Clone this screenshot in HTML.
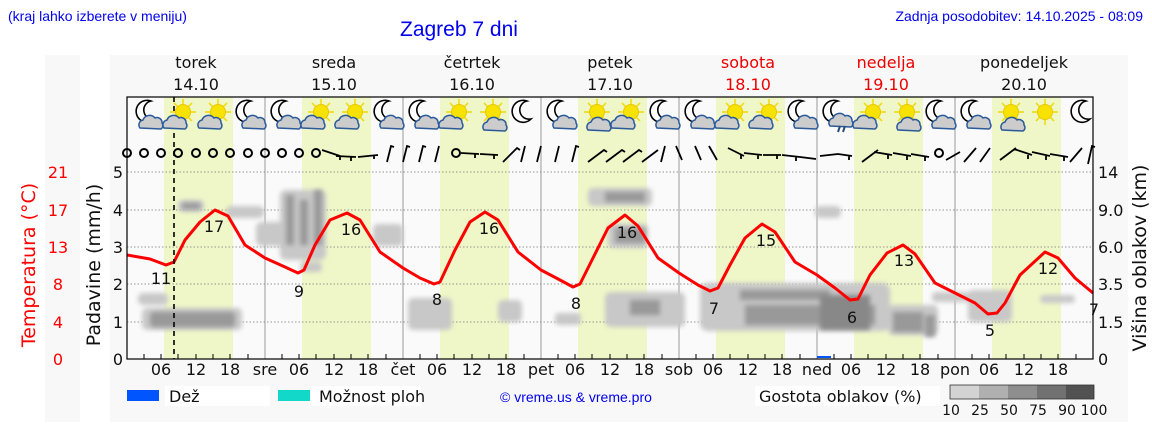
<!DOCTYPE html>
<html><head><meta charset="utf-8"><style>
body{margin:0;background:#fff;}
svg{display:block;font-family:"DejaVu Sans","Liberation Sans",sans-serif;}
.hd{font-family:"Liberation Sans",sans-serif;}
</style></head><body>
<svg width="1152" height="443" viewBox="0 0 1152 443" xmlns="http://www.w3.org/2000/svg">
<defs>
<filter id="bl" x="-20%" y="-20%" width="140%" height="140%"><feGaussianBlur stdDeviation="2.5"/></filter>
<g id="moon"><path d="M6,-12 A11,11 0 1 0 10,6 A9,9 0 0 1 6,-12 Z" fill="#fff" stroke="#000" stroke-width="1.6"/></g>
<g id="cl"><path d="M-10,6 a5,5 0 0 1 3,-8 a7,7 0 0 1 12,-2 a5,5 0 0 1 7,5 a4,4 0 0 1 -1,6 z" fill="#ccc" stroke="#2a5a9a" stroke-width="1.5"/></g>
<g id="sun"><g stroke="#f2d800" stroke-width="1.5"><line x1="0" y1="-13" x2="0" y2="13"/><line x1="-13" y1="0" x2="13" y2="0"/><line x1="-9" y1="-9" x2="9" y2="9"/><line x1="-9" y1="9" x2="9" y2="-9"/></g><circle r="7.5" fill="#f7e200" stroke="#e8c800"/></g>
</defs>
<rect width="1152" height="443" fill="#fff"/>
<rect x="45" y="55" width="35" height="367" fill="#f8f8f8"/>
<rect x="110" y="55" width="1018" height="367" fill="#f8f8f8"/>
<text class="hd" x="8" y="21" font-size="14" fill="#0000ee">(kraj lahko izberete v meniju)</text>
<text class="hd" x="400" y="36" font-size="21" fill="#0000ee">Zagreb 7 dni</text>
<text class="hd" x="1143" y="21" font-size="14" fill="#0000ee" text-anchor="end">Zadnja posodobitev: 14.10.2025 - 08:09</text>
<rect x="127" y="97" width="966" height="262" fill="#fafafa"/>
<g fill="#eff7c8">
<rect x="164" y="97" width="69" height="262"/><rect x="302" y="97" width="69" height="262"/>
<rect x="440" y="97" width="69" height="262"/><rect x="578" y="97" width="69" height="262"/>
<rect x="716" y="97" width="69" height="262"/><rect x="854" y="97" width="69" height="262"/>
<rect x="992" y="97" width="69" height="262"/>
</g>
<g stroke="#999" stroke-width="1">
<line x1="265" y1="97" x2="265" y2="359"/><line x1="403" y1="97" x2="403" y2="359"/><line x1="541" y1="97" x2="541" y2="359"/><line x1="679" y1="97" x2="679" y2="359"/><line x1="817" y1="97" x2="817" y2="359"/><line x1="955" y1="97" x2="955" y2="359"/>
</g>
<g stroke="#777" stroke-dasharray="1.5,2" stroke-width="0.8">
<line x1="127" y1="172" x2="1093" y2="172"/><line x1="127" y1="210" x2="1093" y2="210"/><line x1="127" y1="247" x2="1093" y2="247"/><line x1="127" y1="284" x2="1093" y2="284"/><line x1="127" y1="322" x2="1093" y2="322"/>
</g>
<g filter="url(#bl)" fill="#c8c8c8">
<rect x="138" y="293" width="30" height="12" rx="5"/><rect x="142" y="308" width="100" height="22" rx="5"/>
<rect x="178" y="200" width="26" height="12" rx="5"/><rect x="226" y="206" width="38" height="12" rx="5"/>
<rect x="256" y="222" width="46" height="24" rx="6"/><rect x="280" y="190" width="46" height="70" rx="6"/>
<rect x="300" y="262" width="22" height="10" rx="4"/><rect x="373" y="224" width="30" height="22" rx="5"/>
<rect x="408" y="298" width="44" height="32" rx="5"/><rect x="498" y="300" width="24" height="22" rx="5"/>
<rect x="588" y="188" width="64" height="18" rx="5"/><rect x="608" y="224" width="40" height="24" rx="5"/>
<rect x="605" y="292" width="80" height="35" rx="6"/><rect x="555" y="313" width="26" height="12" rx="4"/>
<rect x="700" y="283" width="190" height="48" rx="8"/><rect x="815" y="206" width="26" height="12" rx="5"/>
<rect x="888" y="305" width="50" height="30" rx="5"/><rect x="932" y="292" width="38" height="10" rx="4"/>
<rect x="968" y="290" width="44" height="32" rx="5"/><rect x="1040" y="295" width="35" height="8" rx="4"/>
</g>
<g filter="url(#bl)" fill="#999">
<rect x="150" y="312" width="85" height="15" rx="4"/><rect x="182" y="203" width="18" height="6"/>
<rect x="286" y="195" width="8" height="50"/><rect x="300" y="200" width="8" height="45"/><rect x="314" y="190" width="8" height="55"/>
<rect x="605" y="192" width="40" height="10"/><rect x="615" y="228" width="30" height="15"/><rect x="630" y="300" width="30" height="15"/>
<rect x="740" y="290" width="90" height="10"/><rect x="745" y="305" width="130" height="20"/><rect x="820" y="295" width="50" height="35" fill="#888"/>
<rect x="893" y="312" width="30" height="20"/><rect x="925" y="315" width="10" height="22"/>
</g>
<polyline fill="none" stroke="#f00" stroke-width="3" stroke-linejoin="round" points="127,255 150,259 166,265 174,262 185,240 200,222 215,210 228,216 245,245 265,258 285,267 298,273 304,270 315,245 330,220 347,213 360,220 380,252 403,268 420,278 434,284 440,282 455,250 470,222 485,212 498,220 518,252 541,270 560,280 573,287 580,284 592,260 608,228 625,215 638,226 658,258 679,273 698,285 710,291 718,288 730,265 745,238 762,224 775,232 795,262 817,275 835,288 850,300 858,299 870,275 887,253 903,245 915,254 935,283 955,293 975,303 988,314 997,313 1005,303 1020,275 1045,252 1058,258 1075,278 1093,293"/>
<g font-size="16" fill="#111" text-anchor="middle">
<text x="161" y="284">11</text><text x="214" y="232">17</text><text x="299" y="297">9</text><text x="351" y="235">16</text><text x="437" y="305">8</text><text x="489" y="234">16</text><text x="576" y="309">8</text><text x="627" y="238">16</text><text x="714" y="314">7</text><text x="766" y="246">15</text><text x="852" y="323">6</text><text x="904" y="266">13</text><text x="990" y="336">5</text><text x="1048" y="274">12</text><text x="1094" y="315">7</text>
</g>
<line x1="174" y1="97" x2="174" y2="359" stroke="#000" stroke-width="1.6" stroke-dasharray="5,4"/>
<rect x="817" y="356" width="14" height="2" fill="#05f"/>
<rect x="127" y="97" width="966" height="262" fill="none" stroke="#000" stroke-width="1.2"/>
<g>
<use href="#moon" x="145" y="113"/><use href="#cl" x="150" y="122"/>
<use href="#sun" x="183" y="112"/><use href="#cl" x="174" y="122"/>
<use href="#sun" x="218" y="112"/><use href="#cl" x="209" y="122"/>
<use href="#moon" x="245" y="113"/><use href="#cl" x="253" y="122"/>
<use href="#moon" x="280" y="113"/><use href="#cl" x="288" y="122"/>
<use href="#sun" x="321" y="112"/><use href="#cl" x="312" y="122"/>
<use href="#sun" x="355" y="112"/><use href="#cl" x="346" y="122"/>
<use href="#moon" x="383" y="113"/><use href="#cl" x="391" y="122"/>
<use href="#moon" x="418" y="113"/><use href="#cl" x="426" y="122"/>
<use href="#sun" x="459" y="112"/><use href="#cl" x="450" y="122"/>
<use href="#sun" x="493" y="112"/><use href="#cl" x="494" y="124"/>
<use href="#moon" x="521" y="113"/>
<use href="#moon" x="556" y="113"/><use href="#cl" x="564" y="122"/>
<use href="#sun" x="597" y="112"/><use href="#cl" x="598" y="124"/>
<use href="#sun" x="631" y="112"/><use href="#cl" x="622" y="122"/>
<use href="#moon" x="659" y="113"/><use href="#cl" x="667" y="122"/>
<use href="#moon" x="694" y="113"/><use href="#cl" x="702" y="122"/>
<use href="#sun" x="735" y="112"/><use href="#cl" x="726" y="122"/>
<use href="#sun" x="769" y="112"/><use href="#cl" x="760" y="122"/>
<use href="#moon" x="797" y="113"/><use href="#cl" x="805" y="122"/>
<use href="#moon" x="832" y="113"/><use href="#cl" x="840" y="120"/>
<use href="#sun" x="873" y="112"/><use href="#cl" x="864" y="122"/>
<use href="#sun" x="907" y="112"/><use href="#cl" x="908" y="124"/>
<use href="#moon" x="935" y="113"/><use href="#cl" x="943" y="122"/>
<use href="#moon" x="970" y="113"/><use href="#cl" x="978" y="122"/>
<use href="#sun" x="1011" y="112"/><use href="#cl" x="1012" y="124"/>
<use href="#sun" x="1045" y="112"/>
<use href="#moon" x="1080" y="113"/>
</g>
<g fill="none" stroke="#000" stroke-width="2">
<circle cx="127" cy="153" r="4"/><circle cx="144" cy="153" r="4"/><circle cx="161" cy="153" r="4"/><circle cx="178" cy="153" r="4"/><circle cx="196" cy="153" r="4"/><circle cx="213" cy="153" r="4"/><circle cx="230" cy="153" r="4"/><circle cx="248" cy="153" r="4"/><circle cx="265" cy="153" r="4"/><circle cx="282" cy="153" r="4"/><circle cx="299" cy="153" r="4"/><circle cx="316" cy="153" r="4"/>
<circle cx="456" cy="153" r="4"/><circle cx="939" cy="153" r="4"/>
</g>
<g stroke="#000" stroke-width="1.8" fill="none">
<path d="M322,150 l18,6 m0,0 l0,4 M336,156 l20,1 m-5,0 l0,4 M358,157 l20,-2 m-4,0 l0,4"/>
<path d="M387,162 l4,-16 l3,1 M403,162 l4,-16 l3,1 M419,162 l4,-16 l3,1 M435,162 l4,-16"/>
<path d="M461,153 l18,1 m-4,0 l0,4 M480,154 l18,1 m-4,0 l0,4 M503,162 l14,-14 l3,2 M521,162 l4,-16 M537,162 l4,-16 M555,162 l4,-16 M572,162 l4,-16 l3,1"/>
<path d="M588,162 l16,-12 l3,2 M606,162 l16,-12 l3,2 M623,162 l16,-12 l3,2 M642,162 l16,-12 M661,162 l4,-16 M676,146 l6,14 M695,146 l6,14 M709,146 l8,14 M728,148 l16,8 m-3,-1 l0,4 M744,153 l18,2 m-4,0 l0,4 M763,155 l18,0 m-4,0 l0,4 M782,155 l18,2 m-4,0 l0,4 M800,157 l16,2 M820,156 l18,-2 M838,154 l14,2 m-3,0 l0,4 M862,162 l16,-12 M874,152 l18,3 m-4,0 l0,4 M893,153 l18,3 m-4,0 l0,4 M911,154 l18,3 m-4,0 l0,4 M946,160 l14,-8 M964,162 l12,-14 M980,162 l10,-14 M1000,160 l16,-12 M1014,149 l18,6 m-4,0 l0,4 M1032,152 l18,4 m-4,0 l0,4 M1050,154 l18,3 m-4,0 l0,4 M1070,162 l12,-14 M1088,164 l4,-18 l3,1"/>
</g>
<g stroke="#2a4a7a" stroke-width="2"><line x1="838" y1="132" x2="840" y2="126"/><line x1="843" y1="132" x2="845" y2="126"/></g>
<g font-size="16" fill="#111" text-anchor="middle">
<text x="196" y="68">torek</text><text x="196" y="90">14.10</text>
<text x="334" y="68">sreda</text><text x="334" y="90">15.10</text>
<text x="472" y="68">četrtek</text><text x="472" y="90">16.10</text>
<text x="610" y="68">petek</text><text x="610" y="90">17.10</text>
<text x="748" y="68" fill="#e00">sobota</text><text x="748" y="90" fill="#e00">18.10</text>
<text x="886" y="68" fill="#e00">nedelja</text><text x="886" y="90" fill="#e00">19.10</text>
<text x="1024" y="68">ponedeljek</text><text x="1024" y="90">20.10</text>
</g>
<g stroke="#000" stroke-width="1">
<path d="M144,359v-5M161,359v-5M178,359v-5M196,359v-5M213,359v-5M230,359v-5M248,359v-5 M282,359v-5M299,359v-5M316,359v-5M334,359v-5M351,359v-5M368,359v-5M386,359v-5 M420,359v-5M437,359v-5M454,359v-5M472,359v-5M489,359v-5M506,359v-5M524,359v-5 M558,359v-5M575,359v-5M592,359v-5M610,359v-5M627,359v-5M644,359v-5M662,359v-5 M696,359v-5M713,359v-5M730,359v-5M748,359v-5M765,359v-5M782,359v-5M800,359v-5 M834,359v-5M851,359v-5M868,359v-5M886,359v-5M903,359v-5M920,359v-5M938,359v-5 M972,359v-5M989,359v-5M1006,359v-5M1024,359v-5M1041,359v-5M1058,359v-5M1076,359v-5"/>
</g>
<g font-size="16" fill="#111" text-anchor="middle">
<text x="161" y="375">06</text><text x="196" y="375">12</text><text x="230" y="375">18</text><text x="265" y="375">sre</text>
<text x="299" y="375">06</text><text x="334" y="375">12</text><text x="368" y="375">18</text><text x="403" y="375">čet</text>
<text x="437" y="375">06</text><text x="472" y="375">12</text><text x="506" y="375">18</text><text x="541" y="375">pet</text>
<text x="575" y="375">06</text><text x="610" y="375">12</text><text x="644" y="375">18</text><text x="679" y="375">sob</text>
<text x="713" y="375">06</text><text x="748" y="375">12</text><text x="782" y="375">18</text><text x="817" y="375">ned</text>
<text x="851" y="375">06</text><text x="886" y="375">12</text><text x="920" y="375">18</text><text x="955" y="375">pon</text>
<text x="989" y="375">06</text><text x="1024" y="375">12</text><text x="1058" y="375">18</text>
</g>
<g font-size="16" fill="#111" text-anchor="end">
<text x="123" y="178">5</text><text x="123" y="216">4</text><text x="123" y="253">3</text><text x="123" y="290">2</text><text x="123" y="328">1</text><text x="123" y="365">0</text>
</g>
<g font-size="16" fill="#f00" text-anchor="middle">
<text x="58" y="178">21</text><text x="58" y="216">17</text><text x="58" y="253">13</text><text x="58" y="290">8</text><text x="58" y="328">4</text><text x="58" y="365">0</text>
</g>
<text transform="translate(35,265) rotate(-90)" font-size="19" fill="#f00" text-anchor="middle">Temperatura (°C)</text>
<text transform="translate(100,265) rotate(-90)" font-size="19" fill="#111" text-anchor="middle">Padavine (mm/h)</text>
<g font-size="16" fill="#111">
<text x="1098" y="178">14</text><text x="1098" y="216">9.0</text><text x="1098" y="253">6.0</text><text x="1098" y="290">3.5</text><text x="1098" y="328">1.5</text><text x="1098" y="365">0</text>
</g>
<text transform="translate(1146,258) rotate(-90)" font-size="19" fill="#111" text-anchor="middle">Višina oblakov (km)</text>
<rect x="127" y="390" width="32" height="11" fill="#05f"/><rect x="165" y="386" width="105" height="20" fill="#fff"/>
<text x="169" y="402" font-size="16" fill="#111">Dež</text>
<rect x="278" y="390" width="32" height="11" fill="#11d8c8"/><rect x="311" y="386" width="110" height="20" fill="#fff"/>
<text x="319" y="402" font-size="16" fill="#111">Možnost ploh</text>
<text class="hd" x="500" y="402" font-size="14" fill="#0000ee">© vreme.us &amp; vreme.pro</text>
<rect x="755" y="386" width="185" height="20" fill="#fff"/>
<text x="759" y="402" font-size="16" fill="#111">Gostota oblakov (%)</text>
<rect x="950" y="385" width="29" height="14" fill="#d3d3d3"/><rect x="979" y="385" width="29" height="14" fill="#b0b0b0"/><rect x="1008" y="385" width="29" height="14" fill="#8e8e8e"/><rect x="1037" y="385" width="29" height="14" fill="#717171"/><rect x="1066" y="385" width="28" height="14" fill="#525252"/>
<rect x="950" y="385" width="144" height="14" fill="none" stroke="#333" stroke-width="0.8"/>
<g font-size="14" fill="#111" text-anchor="middle">
<text x="951" y="415">10</text><text x="980" y="415">25</text><text x="1009" y="415">50</text><text x="1038" y="415">75</text><text x="1067" y="415">90</text><text x="1094" y="415">100</text>
</g>
</svg>
</body></html>
